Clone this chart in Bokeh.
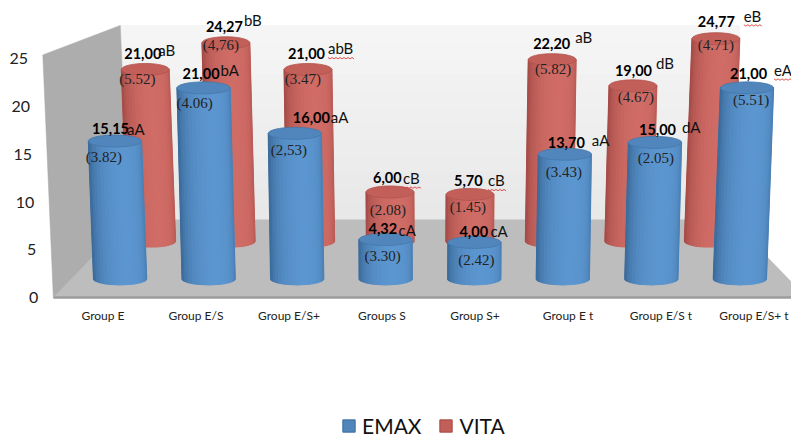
import math
from bokeh.core.properties import value
from bokeh.embed import file_html
from bokeh.layouts import column
from bokeh.models import FixedTicker, Legend, LegendItem, Range1d
from bokeh.plotting import figure
from bokeh.resources import INLINE

# ---- data -----------------------------------------------------------------
categories = ["Group E", "Group E/S", "Group E/S+", "Groups S", "Group S+",
              "Group E t", "Group E/S t", "Group E/S+ t"]
y_ticks = [0, 5, 10, 15, 20, 25]

emax_values = [15.15, 21.00, 16.00, 4.32, 4.00, 13.70, 15.00, 21.00]
emax_labels = ["15,15", "21,00", "16,00", "4,32", "4,00", "13,70", "15,00", "21,00"]
emax_letters = ["aA", "bA", "aA", "cA", "cA", "aA", "dA", "eA"]
emax_sd = ["(3.82)", "(4.06)", "(2,53)", "(3.30)", "(2.42)", "(3.43)", "(2.05)", "(5.51)"]

vita_values = [21.00, 24.27, 21.00, 6.00, 5.70, 22.20, 19.00, 24.77]
vita_labels = ["21,00", "24,27", "21,00", "6,00", "5,70", "22,20", "19,00", "24,77"]
vita_letters = ["aB", "bB", "abB", "cB", "cB", "aB", "dB", "eB"]
vita_sd = ["(5.52)", "(4,76)", "(3.47)", "(2.08)", "(1.45)", "(5.82)", "(4.67)", "(4.71)"]

# ---- label placement, px from the top of each cylinder ----------------------
emax_val_off = [(-23, -13), (-21, -14), (-2, -16), (-17, -11), (-15, -11), (-17, -12), (-16, -13), (-17, -14)]
emax_let_off = [(12, -12), (17, -18), (36, -16), (13, -10), (16, -11), (27, -14), (27, -15), (27, -18)]
emax_sd_off = [(-11, 16), (-9, 15), (-6, 17), (-3, 16), (2, 18), (-1, 18), (1, 16), (4, 12)]
vita_val_off = [(-21, -16), (-20, -16), (-20, -16), (-17, -14), (-16, -14), (-19, -16), (-18, -15), (-18, -17)]
vita_let_off = [(13, -19), (18, -23), (20, -21), (13, -14), (18, -14), (23, -23), (23, -23), (28, -23)]
vita_sd_off = [(-8, 10), (-5, 2), (-5, 10), (-2, 18), (-2, 13), (1, 9), (3, 11), (0, 6)]
emax_flag = [False] * 7 + [True]
vita_flag = [False, False, True, True, True, False, False, True]

# ---- projection ------------------------------------------------------------
PX_X = 93.0        # px per category at the front plane
PX_Y = 9.55        # px per value unit at the front plane
CENTER = 0.016     # vanishing column, in category units
LEAN = 0.0011      # outward lean with height
FLOOR_DROP = 390 / PX_Y   # rise of the floor (value units) per unit of lost scale
DEPTH_BACK_WALL = 0.80
DEPTH_EMAX = 0.952
DEPTH_VITA = 0.855
RADIUS = 0.30
WALL_TOP = 25.4
FLOOR_HALF = 4.05
EMAX_CAP, EMAX_EDGE = "#5086bb", "#4577a8"
VITA_CAP, VITA_EDGE = "#c25f59", "#b3534d"


def proj(col, v, s):
    """col: column measured from the middle; v: value; s: depth scale."""
    return CENTER + col * s * (1 + LEAN * v), FLOOR_DROP * (1 - s) + v * s


def mix(a, b, t):
    return "#%02x%02x%02x" % tuple(round(a[k] + (b[k] - a[k]) * t) for k in range(3))


p = figure(frame_width=791, frame_height=306, min_border_left=0, min_border_right=0,
           min_border_top=0, min_border_bottom=24, output_backend="svg",
           toolbar_location=None, background_fill_color="white", outline_line_color=None,
           x_range=Range1d(-428 / PX_X, 363 / PX_X), y_range=Range1d(-9 / PX_Y, 297 / PX_Y),
           y_axis_location=None)
p.grid.visible = False

# ---- walls and floor --------------------------------------------------------
wall_steps = 12
for k in range(wall_steps):
    v0, v1 = WALL_TOP * k / wall_steps, WALL_TOP * (k + 1) / wall_steps
    c = mix((232, 232, 232), (245, 245, 245), k / (wall_steps - 1))
    a, b = proj(-FLOOR_HALF, v0, DEPTH_BACK_WALL), proj(FLOOR_HALF, v0, DEPTH_BACK_WALL)
    d, e = proj(-FLOOR_HALF, v1, DEPTH_BACK_WALL), proj(FLOOR_HALF, v1, DEPTH_BACK_WALL)
    p.patch([a[0], b[0], e[0], d[0]], [a[1], b[1], e[1], d[1]], fill_color=c, line_color=c, line_width=1)

fl = [proj(-FLOOR_HALF, 0, 1), proj(FLOOR_HALF, 0, 1),
      proj(FLOOR_HALF, 0, DEPTH_BACK_WALL), proj(-FLOOR_HALF, 0, DEPTH_BACK_WALL)]
p.patch([q_[0] for q_ in fl], [q_[1] for q_ in fl], fill_color="#bdbdbd", line_color=None)
p.segment(fl[0][0], fl[0][1], fl[1][0], fl[1][1], line_color="#9c9c9c", line_width=2.5)

lw = [proj(-FLOOR_HALF, 0, 1), proj(-FLOOR_HALF, 0, DEPTH_BACK_WALL),
      proj(-FLOOR_HALF, WALL_TOP, DEPTH_BACK_WALL), proj(-FLOOR_HALF, WALL_TOP, 1)]
p.patch([q_[0] for q_ in lw], [q_[1] for q_ in lw], fill_color="#adadad", line_color="#a6a6a6", line_width=0.5)


# ---- cylinders --------------------------------------------------------------
def cylinders(vals, s, dark, light, cap, edge):
    STR = 20
    r = RADIUS * s
    e_px = 6.0
    ey = e_px / PX_Y
    for i, v in enumerate(vals):
        col = i - 3.5
        bx, by = proj(col, 0, s)
        tx, ty = proj(col, v, s)
        xs, ys, cs = [], [], []
        for k in range(STR):
            a0 = -math.pi / 2 + math.pi * k / STR
            a1 = -math.pi / 2 + math.pi * (k + 1) / STR
            poly_x = [bx + r * math.sin(a0), bx + r * math.sin(a1), tx + r * math.sin(a1), tx + r * math.sin(a0)]
            poly_y = [by - ey * math.cos(a0), by - ey * math.cos(a1), ty, ty]
            xs.append(poly_x)
            ys.append(poly_y)
            mid = (a0 + a1) / 2
            t = max(0.0, math.cos(mid - 0.35)) ** 0.8
            cs.append(mix(dark, light, t))
        p.patches(xs, ys, fill_color=cs, line_color=cs, line_width=1.2)
    cap_x, cap_y = [], []
    for i, v in enumerate(vals):
        tx, ty = proj(i - 3.5, v, s)
        ang = [2 * math.pi * k / 40 for k in range(40)]
        cap_x.append([tx + r * math.cos(a) for a in ang])
        cap_y.append([ty + ey * math.sin(a) for a in ang])
    return p.patches(cap_x, cap_y, fill_color=cap, line_color=edge, line_width=0.8)


cylinders(vita_values, DEPTH_VITA, (166, 76, 72), (208, 108, 102), VITA_CAP, VITA_EDGE)
cylinders(emax_values, DEPTH_EMAX, (60, 108, 156), (92, 150, 208), EMAX_CAP, EMAX_EDGE)


# ---- labels -------------------------------------------------------------------
def annotate(vals, s, val_txt, val_off, let_txt, let_off, sd_txt, sd_off, flags):
    tops = [proj(i - 3.5, v, s) for i, v in enumerate(vals)]
    tx, ty = [t_[0] for t_ in tops], [t_[1] for t_ in tops]
    p.text(tx, ty, text=sd_txt, x_offset=[o[0] for o in sd_off], y_offset=[o[1] for o in sd_off],
           text_font=value("Liberation Serif"), text_font_size="15px", text_color="#222222",
           text_align="center", text_baseline="middle")
    p.text(tx, ty, text=let_txt, x_offset=[o[0] for o in let_off], y_offset=[o[1] for o in let_off],
           text_font=value("Lato"), text_font_size="15px", text_color="#111111",
           text_align="left", text_baseline="middle")
    p.text(tx, ty, text=val_txt, x_offset=[o[0] for o in val_off], y_offset=[o[1] for o in val_off],
           text_font=value("Lato"), text_font_style="bold", text_font_size="14.5px", text_color="#000000",
           text_align="left", text_baseline="middle")
    # the wavy proofing underline that sits under some of the letters
    wx, wy = [], []
    for i, f in enumerate(flags):
        if not f:
            continue
        w = len(let_txt[i]) * 8.5 + 1
        n = int(w / 2)
        wx.append([tx[i] + (let_off[i][0] + k * 2) / PX_X for k in range(n + 1)])
        wy.append([ty[i] - (let_off[i][1] + 9 + (k % 2) * 1.4) / PX_Y for k in range(n + 1)])
    if wx:
        p.multi_line(wx, wy, line_color="#d9413a", line_width=0.9)


annotate(vita_values, DEPTH_VITA, vita_labels, vita_val_off, vita_letters, vita_let_off, vita_sd, vita_sd_off, vita_flag)
annotate(emax_values, DEPTH_EMAX, emax_labels, emax_val_off, emax_letters, emax_let_off, emax_sd, emax_sd_off, emax_flag)

# the vertical scale stands on the slanted front edge of the side wall
edge = [proj(-FLOOR_HALF, t, 1) for t in y_ticks]
p.text([e_[0] for e_ in edge], [e_[1] for e_ in edge], text=[str(t) for t in y_ticks],
       x_offset=-15, text_font=value("Lato"), text_font_size="16px", text_color="#222222",
       text_align="right", text_baseline="middle")

# ---- category axis ------------------------------------------------------------
ax = p.xaxis[0]
ax.ticker = FixedTicker(ticks=[i - 3.5 for i in range(len(categories))])
ax.major_label_overrides = {i - 3.5: c for i, c in enumerate(categories)}
ax.axis_line_color = None
ax.major_tick_line_color = None
ax.minor_tick_line_color = None
ax.major_tick_out = 0
ax.major_tick_in = 0
ax.minor_tick_out = 0
ax.minor_tick_in = 0
ax.major_label_standoff = 1
ax.major_label_text_font = "Lato"
ax.major_label_text_font_size = "12px"
ax.major_label_text_color = "#222222"

# ---- legend, in a strip of its own under the chart ------------------------------
q = figure(width=791, height=108, min_border=0, output_backend="svg", toolbar_location=None,
           outline_line_color=None, x_axis_location=None, y_axis_location=None,
           x_range=Range1d(0, 1), y_range=Range1d(0, 1))
q.grid.visible = False
# the keys' own shapes lie outside the strip's range; only their legend swatches show
key_emax = q.patch([2, 3, 3], [2, 2, 3], fill_color=EMAX_CAP, line_color=EMAX_EDGE, line_width=1.5)
key_vita = q.patch([2, 3, 3], [2, 2, 3], fill_color=VITA_CAP, line_color=VITA_EDGE, line_width=1.5)
legend = Legend(items=[LegendItem(label="EMAX", renderers=[key_emax]),
                       LegendItem(label="VITA", renderers=[key_vita])],
                orientation="horizontal", location=(341, 0), margin=0, padding=0,
                border_line_color=None, background_fill_alpha=0,
                glyph_width=15, glyph_height=15, spacing=17, label_standoff=6,
                label_text_font="Lato", label_text_font_size="21px", label_text_color="#111111")
q.add_layout(legend, "center")

open("out.html", "w").write(file_html(column(p, q, spacing=0), INLINE))
